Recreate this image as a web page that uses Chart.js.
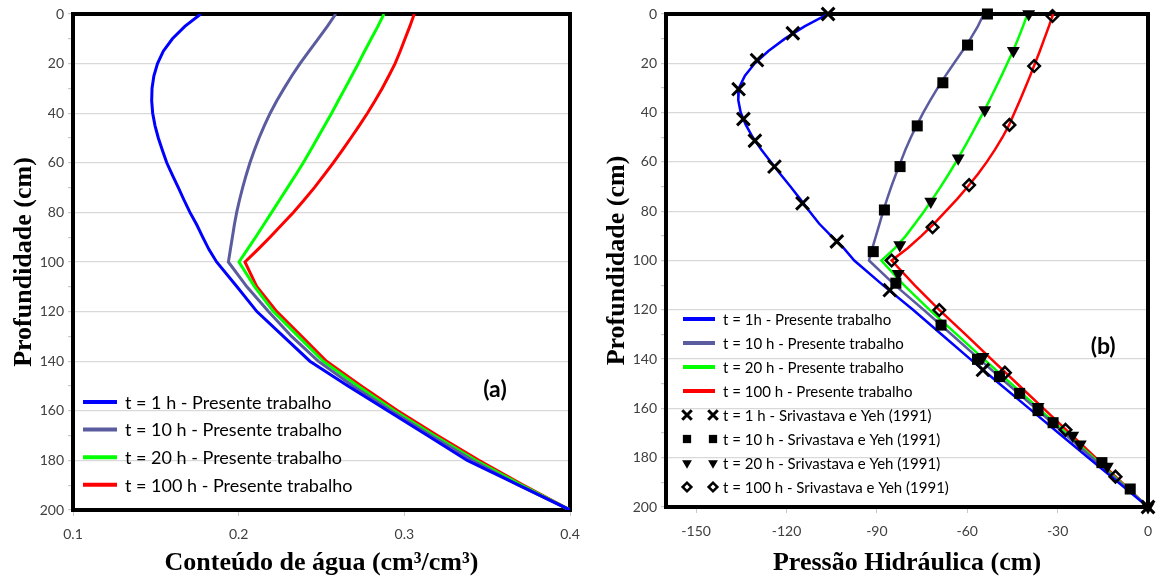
<!DOCTYPE html>
<html>
<head>
<meta charset="utf-8">
<script src="https://cdn.jsdelivr.net/npm/chart.js@4.4.1/dist/chart.umd.min.js"></script>
<style>
  html, body { margin: 0; padding: 0; background: #fff; }
  #wrap { position: relative; width: 1160px; height: 579px; overflow: hidden; }
  canvas { position: absolute; top: 0; }
  #chartA { left: 0; }
  #chartB { left: 580px; }
</style>
</head>
<body>
<div id="wrap">
  <canvas id="chartA" width="580" height="579"></canvas>
  <canvas id="chartB" width="580" height="579"></canvas>
</div>
<script>
// profundidade (cm) das curvas do presente trabalho
const profLinha = [0, 5, 10, 15, 20, 25, 30, 35, 40, 45, 50, 55, 60, 65, 70, 75, 80, 85, 90, 95, 100,
                   110, 120, 130, 140, 150, 160, 170, 180, 190, 200];

// (a) conteudo de agua (cm3/cm3)
const theta1h = [0.1771, 0.1675, 0.1600, 0.1545, 0.1510, 0.1488, 0.1477, 0.1475, 0.1481, 0.1495, 0.1515,
                 0.154, 0.1566, 0.16, 0.1636, 0.167, 0.1706, 0.1747, 0.1783, 0.1821, 0.1867,
                 0.199, 0.211, 0.227, 0.243, 0.266, 0.290, 0.314, 0.338, 0.369, 0.4];
const theta10h = [0.2586, 0.2535, 0.248, 0.2425, 0.237, 0.232, 0.2274, 0.223, 0.219, 0.2155, 0.2123,
                  0.2094, 0.2068, 0.2045, 0.2024, 0.2005, 0.1988, 0.1974, 0.1962, 0.195, 0.1938,
                  0.205, 0.218, 0.232, 0.248, 0.269, 0.292, 0.316, 0.341, 0.369, 0.4];
const theta20h = [0.2877, 0.284, 0.280, 0.276, 0.2722, 0.2682, 0.2642, 0.2601, 0.2561, 0.2519, 0.2476,
                  0.2433, 0.239, 0.2343, 0.2295, 0.2247, 0.2199, 0.2151, 0.2102, 0.2052, 0.2002,
                  0.2097, 0.221, 0.236, 0.251, 0.272, 0.294, 0.318, 0.343, 0.371, 0.4];
const theta100h = [0.306, 0.3033, 0.3004, 0.2975, 0.2944, 0.2906, 0.2866, 0.2823, 0.2777, 0.2728, 0.2677,
                   0.2625, 0.2571, 0.2515, 0.2457, 0.2395, 0.233, 0.226, 0.2189, 0.2115, 0.2038,
                   0.211, 0.223, 0.238, 0.253, 0.274, 0.296, 0.320, 0.345, 0.372, 0.4];

// (b) pressao hidraulica (cm)
const h1h = [-106.2, -114, -120.5, -126, -130.5, -133.8, -135.8, -136, -135.2, -133.5, -131.2,
             -128.4, -125.2, -122, -118.7, -115.5, -112.4, -109.2, -105.2, -101, -97.5,
             -88, -78, -68.5, -59, -49.3, -39.5, -29.7, -19.8, -9.9, 0];
const h10h = [-54.5, -56.5, -58.9, -61.6, -64.4, -67.2, -69.8, -72.3, -74.6, -76.7, -78.7,
              -80.5, -82.1, -83.7, -85.2, -86.6, -87.9, -89.1, -90.3, -91.5, -92.6,
              -84, -74.5, -65.2, -56, -46.7, -37.3, -28, -18.6, -9.3, 0];
const h20h = [-40, -41.5, -43.1, -44.8, -46.7, -48.6, -50.6, -52.6, -54.7, -56.9, -59.1,
              -61.4, -63.7, -66.2, -68.8, -71.5, -74.3, -77.3, -80.4, -84, -88.5,
              -81, -72.5, -63.5, -54.5, -45.4, -36.3, -27.2, -18.1, -9, 0];
const h100h = [-31.5, -32.9, -34.4, -35.9, -37.5, -39.1, -40.8, -42.5, -44.3, -46.1, -48.3,
               -50.8, -53.5, -56.5, -59.8, -63.3, -67.1, -71, -75.2, -79.8, -85.1,
               -77.5, -69.3, -60.6, -52, -43.4, -34.7, -26, -17.4, -8.7, 0];

// Srivastava e Yeh (1991)
const sy1hProf = [0, 7.8, 18.7, 30.5, 42.6, 51.4, 61.9, 76.8, 92.3, 112, 144.4, 200];
const sy1hPress = [-106.2, -117.9, -129.8, -135.9, -134.3, -130.5, -124, -114.7, -103.3, -85.7, -54.8, 0];
const sy10hProf = [0, 12.6, 27.9, 45.4, 61.9, 79.5, 96.4, 109.2, 126.2, 140.1, 147.1, 153.9, 160.9, 165.8, 182, 192.7];
const sy10hPress = [-53.3, -59.9, -68.1, -76.6, -82.3, -87.5, -91.2, -83.7, -68.7, -56.6, -49.3, -42.6, -36.5, -31.5, -15.3, -5.9];
const sy20hProf = [0, 14.9, 38.9, 58.5, 76.1, 93.7, 105.4, 139, 159.3, 171, 174.5, 183.6, 200];
const sy20hPress = [-39.6, -44.7, -54.2, -63, -72.1, -82.4, -82.9, -54.8, -36.5, -25, -22.5, -13.5, 0];
const sy100hProf = [0.8, 21.1, 45, 69.4, 86.5, 100, 120.1, 145.5, 168.7, 187.7];
const sy100hPress = [-31.7, -37.8, -46, -59.4, -71.5, -85.1, -69.3, -47.5, -27.4, -10.8];

// eixos
const profTicks = [0, 10, 20, 30, 40, 50, 60, 70, 80, 90, 100, 110, 120, 130, 140, 150, 160, 170, 180, 190, 200];
const aguaTicks = [0.1, 0.2, 0.3, 0.4];
const pressaoTicks = [-150, -120, -90, -60, -30, 0];

Chart.defaults.font.family = 'Lato, "Open Sans", sans-serif';
Chart.defaults.color = '#404040';
Chart.defaults.animation = false;

const AZUL = '#0000ff', CINZA = '#5b5b9f', VERDE = '#00ff00', VERMELHO = '#ff0000';
const serif = '"Liberation Serif", "Times New Roman", serif';

function curva(label, color, xs, ys, width) {
  return {
    label, showLine: true, borderColor: color, backgroundColor: color, borderWidth: width,
    pointRadius: 0, tension: 0, order: 1,
    data: ys.map((y, i) => ({ x: xs[i], y }))
  };
}

function marcador(label, style, radius, fill, border, xs, ys, rotation) {
  return {
    label, showLine: false, pointStyle: style, pointRadius: radius, rotation: rotation || 0,
    pointBackgroundColor: fill, pointBorderColor: '#000', borderColor: '#000',
    pointBorderWidth: border, order: 0, clip: false,
    data: ys.map((y, i) => ({ x: xs[i], y }))
  };
}

// moldura preta grossa da area do grafico
const moldura = {
  id: 'moldura',
  beforeDatasetsDraw(chart) {
    const { ctx, chartArea: a } = chart;
    ctx.save();
    ctx.strokeStyle = '#000';
    ctx.lineWidth = 4;
    ctx.strokeRect(a.left, a.top, a.right - a.left, a.bottom - a.top);
    ctx.restore();
  }
};

// legenda no estilo Excel (linha ou dois marcadores)
const legendaExcel = {
  id: 'legendaExcel',
  afterDraw(chart, args, o) {
    const { ctx, chartArea: a } = chart;
    ctx.save();
    ctx.font = o.font;
    ctx.textBaseline = 'middle';
    chart.data.datasets.forEach((ds, i) => {
      const y = a.top + o.top + i * o.row;
      const x0 = a.left + o.left;
      if (ds.showLine) {
        ctx.strokeStyle = ds.borderColor;
        ctx.lineWidth = 4;
        ctx.beginPath();
        ctx.moveTo(x0, y);
        ctx.lineTo(x0 + o.len, y);
        ctx.stroke();
      } else {
        o.markerX.forEach(mx => {
          ctx.fillStyle = ds.pointBackgroundColor;
          ctx.strokeStyle = '#000';
          ctx.lineWidth = ds.pointBorderWidth;
          Chart.helpers.drawPoint(ctx, {
            pointStyle: ds.pointStyle, rotation: ds.rotation,
            radius: ds.pointRadius * 0.75, borderWidth: ds.pointBorderWidth
          }, a.left + mx, y);
        });
      }
      ctx.fillStyle = '#000';
      ctx.fillText(ds.label, a.left + o.textX, y + 1);
    });
    ctx.restore();
  }
};

const rotulo = {
  id: 'rotulo',
  afterDraw(chart, args, o) {
    const { ctx, chartArea: a } = chart;
    ctx.save();
    ctx.font = 'bold 23px Lato, sans-serif';
    ctx.fillStyle = '#000';
    ctx.textAlign = 'center';
    ctx.textBaseline = 'middle';
    ctx.fillText(o.text, a.left + o.fx * (a.right - a.left), a.top + o.fy * (a.bottom - a.top));
    ctx.restore();
  }
};

function eixoProf(width) {
  return {
    reverse: true, min: 0, max: 200,
    afterBuildTicks: s => { s.ticks = profTicks.map(v => ({ value: v })); },
    afterFit: s => { s.width = width; },
    border: { display: false },
    grid: {
      color: c => (c.tick && c.tick.value % 20 === 0) ? '#d9d9d9' : 'rgba(0,0,0,0)',
      tickColor: '#c8c8c8', tickLength: 5, lineWidth: 1.2
    },
    ticks: { autoSkip: false, padding: 4, font: { size: 14 }, callback: v => v % 20 === 0 ? v : '' },
    title: { display: true, text: 'Profundidade (cm)', color: '#000', padding: 0,
             font: { family: serif, size: 26, weight: 'bold' } }
  };
}

function eixoX(min, max, ticks, height, title, fmt) {
  return {
    type: 'linear', min, max,
    afterBuildTicks: s => { s.ticks = ticks.map(v => ({ value: v })); },
    afterFit: s => { s.height = height; s.paddingLeft = 0; s.paddingRight = 0; },
    border: { display: false },
    grid: { drawOnChartArea: false, tickColor: '#c8c8c8', tickLength: 6 },
    ticks: { autoSkip: false, maxRotation: 0, padding: 10, font: { size: 14 }, callback: fmt },
    title: { display: true, text: title, color: '#000', padding: 0,
             font: { family: serif, size: 26, weight: 'bold' } }
  };
}

new Chart(document.getElementById('chartA'), {
  type: 'scatter',
  data: {
    datasets: [
      curva('t = 1 h - Presente trabalho', AZUL, theta1h, profLinha, 3),
      curva('t = 10 h - Presente trabalho', CINZA, theta10h, profLinha, 3),
      curva('t = 20 h - Presente trabalho', VERDE, theta20h, profLinha, 3),
      curva('t = 100 h - Presente trabalho', VERMELHO, theta100h, profLinha, 3)
    ]
  },
  options: {
    responsive: false,
    layout: { padding: { left: 9, top: 14, right: 10, bottom: 0 } },
    plugins: {
      legend: { display: false },
      tooltip: { enabled: false },
      legendaExcel: { font: '18px Lato, sans-serif', left: 10, len: 34, textX: 52, top: 388, row: 27.6 },
      rotulo: { text: '(a)', fx: 0.849, fy: 0.758 }
    },
    scales: {
      x: eixoX(0.1, 0.4, aguaTicks, 69, 'Conteúdo de água (cm³/cm³)', v => v.toFixed(1)),
      y: eixoProf(64)
    }
  },
  plugins: [moldura, legendaExcel, rotulo]
});

new Chart(document.getElementById('chartB'), {
  type: 'scatter',
  data: {
    datasets: [
      curva('t = 1h - Presente trabalho', AZUL, h1h, profLinha, 2.5),
      curva('t = 10 h - Presente trabalho', CINZA, h10h, profLinha, 2.5),
      curva('t = 20 h - Presente trabalho', VERDE, h20h, profLinha, 2.5),
      curva('t = 100 h - Presente trabalho', VERMELHO, h100h, profLinha, 2.5),
      marcador('t = 1 h - Srivastava e Yeh (1991)', 'crossRot', 9, '#000', 3, sy1hPress, sy1hProf),
      marcador('t = 10 h - Srivastava e Yeh (1991)', 'rect', 7.8, '#000', 0, sy10hPress, sy10hProf),
      marcador('t = 20 h - Srivastava e Yeh (1991)', 'triangle', 7.5, '#000', 0, sy20hPress, sy20hProf, 180),
      marcador('t = 100 h - Srivastava e Yeh (1991)', 'rectRot', 5.8, 'rgba(255,255,255,0)', 2.5, sy100hPress, sy100hProf)
    ]
  },
  options: {
    responsive: false,
    layout: { padding: { left: 22, top: 14, right: 6, bottom: 0 } },
    plugins: {
      legend: { display: false },
      tooltip: { enabled: false },
      legendaExcel: { font: '15px Lato, sans-serif', left: 17, len: 32, textX: 57, top: 305, row: 24, markerX: [21, 47] },
      rotulo: { text: '(b)', fx: 0.907, fy: 0.675 }
    },
    scales: {
      x: eixoX(-160, 0, pressaoTicks, 72, 'Pressão Hidráulica (cm)', v => String(v)),
      y: eixoProf(64)
    }
  },
  plugins: [moldura, legendaExcel, rotulo]
});
</script>
</body>
</html>
